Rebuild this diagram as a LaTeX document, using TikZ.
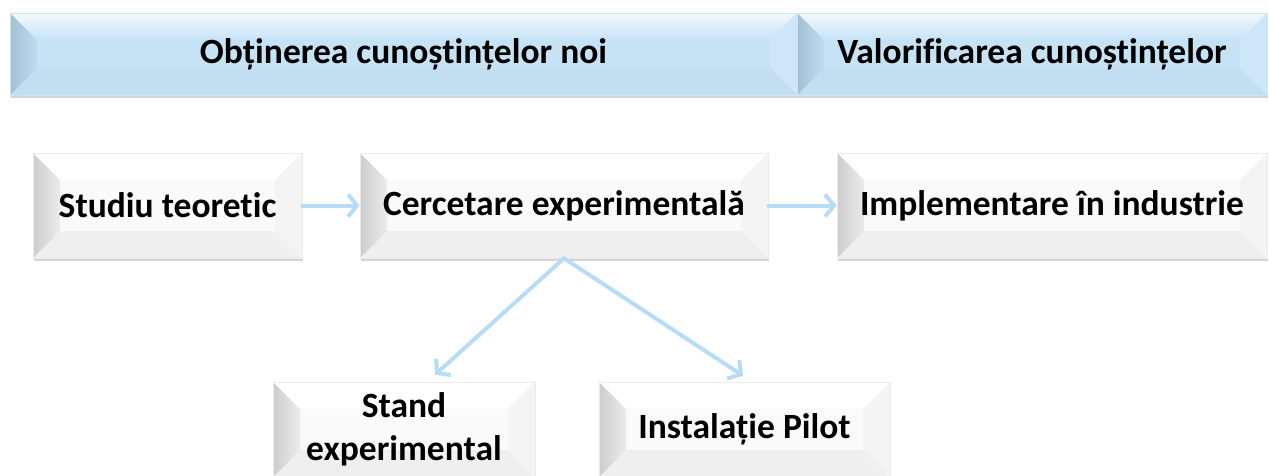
\documentclass[tikz,border=0pt]{standalone}
\usepackage{fontspec}
\setmainfont{Carlito}[Ligatures=NoCommon]
\usetikzlibrary{arrows.meta,shadows,calc}

\definecolor{linkblue}{HTML}{B6DDF5}
\definecolor{bannerface}{HTML}{C6E3F6}
\definecolor{bannerleft}{HTML}{A2C0D4}
\definecolor{bannerleftin}{HTML}{BFDCEF}
\definecolor{bannerbottom}{HTML}{C2DFF2}
\definecolor{bannerright}{HTML}{CDE7F8}
\definecolor{boxface}{HTML}{FAFAFA}
\definecolor{boxleft}{HTML}{CDCDCD}
\definecolor{boxleftin}{HTML}{EBEBEB}
\definecolor{boxright}{HTML}{F4F4F4}
\definecolor{boxbottom}{HTML}{EFEFEF}

\newcommand\boxfont{\fontsize{35.5}{43}\selectfont\bfseries}

% Four bevel trapezoids of a rectangular node:
% #1 inset, #2 left, #3 top, #4 right, #5 bottom (path options)
\newcommand\bevelfaces[5]{%
  \coordinate (bvA) at (path picture bounding box.north west);
  \coordinate (bvB) at (path picture bounding box.north east);
  \coordinate (bvC) at (path picture bounding box.south east);
  \coordinate (bvD) at (path picture bounding box.south west);
  \coordinate (bva) at ($(bvA)+(#1,-#1)$);
  \coordinate (bvb) at ($(bvB)+(-#1,-#1)$);
  \coordinate (bvc) at ($(bvC)+(-#1,#1)$);
  \coordinate (bvd) at ($(bvD)+(#1,#1)$);
  \path[#3] (bvA) -- (bvB) -- (bvb) -- (bva) -- cycle;
  \path[#4] (bvB) -- (bvC) -- (bvc) -- (bvb) -- cycle;
  \path[#5] (bvC) -- (bvD) -- (bvd) -- (bvc) -- cycle;
  \path[#2] (bvD) -- (bvA) -- (bva) -- (bvd) -- cycle;
}

\tikzset{
  softshadow/.style={drop shadow={shadow xshift=1pt, shadow yshift=-2.5pt,
      opacity=0.3, fill=black!55}},
  whitebox/.style={rectangle, inner sep=0pt, align=center, font=\boxfont,
      fill=boxface, draw=black!8, line width=0.6pt, softshadow,
      path picture={\bevelfaces{27pt}
        {left color=boxleft, right color=boxleftin}
        {fill=white}
        {fill=boxright}
        {fill=boxbottom}}},
  bannerbox/.style={rectangle, inner sep=0pt, align=center, font=\boxfont,
      fill=bannerface, draw=bannerleft!45, line width=0.6pt, softshadow,
      path picture={\bevelfaces{27pt}
        {left color=bannerleft, right color=bannerleftin}
        {top color=white!80!bannerface, bottom color=bannerface}
        {fill=bannerright}
        {fill=bannerbottom}}},
  link/.style={draw=linkblue, line width=4pt, line cap=round,
      -{Straight Barb[length=9pt, width=22pt, line join=miter]}}
}

\begin{document}
\begin{tikzpicture}[x=1pt, y=-1pt]
  \path[use as bounding box, clip] (0,0) rectangle (1269,475);
  \fill[white] (0,0) rectangle (1269,475);

  % phase banner
  \node[bannerbox, minimum width=787pt, minimum height=82pt] (obt) at (403.5,54)
    {Obținerea cunoștințelor noi};
  \node[bannerbox, minimum width=470pt, minimum height=82pt] (val) at (1032,54)
    {Valorificarea cunoștințelor};

  % main chain
  \node[whitebox, minimum width=269pt, minimum height=105pt] (studiu) at (167.5,205.5)
    {Studiu teoretic};
  \node[whitebox, minimum width=408pt, minimum height=105pt] (cerc) at (564,205.5)
    {Cercetare experimentală};
  \node[whitebox, minimum width=430pt, minimum height=105pt] (impl) at (1052,205.5)
    {Implementare în industrie};

  % experimental branches
  \node[whitebox, minimum width=262pt, minimum height=95pt] (stand) at (404,429.5)
    {Stand\\experimental};
  \node[whitebox, minimum width=291pt, minimum height=95pt] (pilot) at (744.5,429.5)
    {Instalație Pilot};

  % connectors
  \draw[link] (studiu) -- (cerc);
  \draw[link] (cerc) -- (impl);
  \draw[link] (cerc.south) -- ([xshift=31pt, yshift=7pt]stand.north);
  \draw[link] (cerc.south) -- ([xshift=-1.5pt, yshift=6pt]pilot.north);
\end{tikzpicture}
\end{document}
